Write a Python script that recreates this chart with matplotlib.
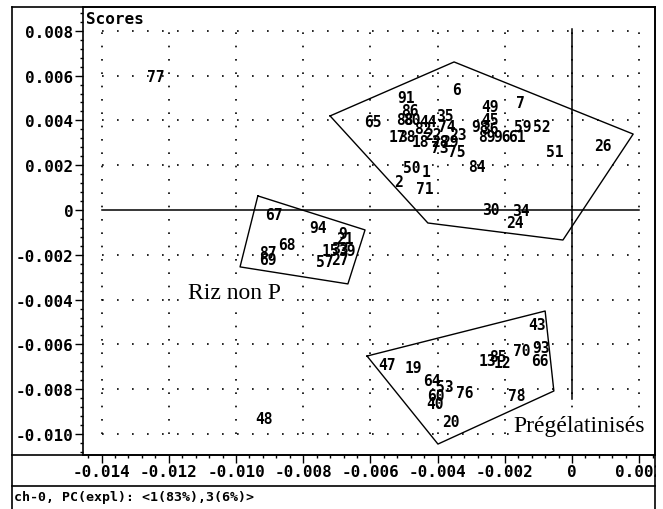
import matplotlib
matplotlib.use('Agg')
from matplotlib import pyplot as plt
from matplotlib.lines import Line2D
from matplotlib.patches import Rectangle
from matplotlib.ticker import FuncFormatter, AutoMinorLocator
import numpy as np

# scores: PC1 (x) vs PC3 (y)
labels = ['6', '91', '86', '88', '80', '35', '44', '74', '17', '38', '82', '22',
          '23', '29', '28', '18', '73', '75', '65', '49', '45', '98', '36', '89',
          '96', '61', '59', '52', '7', '51', '26', '84', '50', '1', '2', '71',
          '30', '34', '24',
          '67', '94', '68', '87', '69', '9', '21', '15', '33', '39', '57', '27',
          '43', '93', '70', '66', '85', '13', '12', '47', '19', '64', '53', '76',
          '60', '40', '20', '78',
          '77', '48']
pc1 = [-0.00345, -0.00494, -0.00482, -0.00497, -0.00476, -0.00378, -0.00429, -0.00372,
       -0.00521, -0.00491, -0.00443, -0.00414, -0.00339, -0.00363, -0.00393, -0.00452,
       -0.00393, -0.00342, -0.00592, -0.00244, -0.00244, -0.00274, -0.00244, -0.00253,
       -0.00208, -0.00164, -0.00146, -0.00089, -0.00155, -0.00051, 0.00092, -0.00283,
       -0.00476, -0.00435, -0.00515, -0.00438, -0.00241, -0.00152, -0.00170,
       -0.00887, -0.00756, -0.00848, -0.00905, -0.00905, -0.00682, -0.00676, -0.00720,
       -0.00690, -0.00670, -0.00735, -0.00690,
       -0.00104, -0.00092, -0.00149, -0.00095, -0.00220, -0.00253, -0.00208, -0.00551,
       -0.00473, -0.00417, -0.00378, -0.00318, -0.00405, -0.00408, -0.00360, -0.00164,
       -0.01238, -0.00917]
pc3 = [0.00536, 0.00504, 0.00442, 0.00406, 0.00406, 0.00420, 0.00393, 0.00371,
       0.00330, 0.00326, 0.00362, 0.00339, 0.00339, 0.00308, 0.00308, 0.00304,
       0.00281, 0.00263, 0.00393, 0.00464, 0.00406, 0.00371, 0.00362, 0.00326,
       0.00330, 0.00326, 0.00371, 0.00371, 0.00478, 0.00263, 0.00286, 0.00196,
       0.00188, 0.00170, 0.00129, 0.00098, 0.00004, 0.00000, -0.00054,
       -0.00018, -0.00076, -0.00152, -0.00188, -0.00219, -0.00107, -0.00129, -0.00179,
       -0.00174, -0.00179, -0.00232, -0.00223,
       -0.00513, -0.00612, -0.00629, -0.00670, -0.00656, -0.00670, -0.00679, -0.00688,
       -0.00705, -0.00763, -0.00790, -0.00813, -0.00830, -0.00866, -0.00946, -0.00830,
       0.00598, -0.00929]

# group outlines
hull_x = [-0.00720, -0.00351, 0.00182, -0.00027, -0.00429]
hull_y = [0.00420, 0.00661, 0.00339, -0.00134, -0.00058]
riz_x = [-0.00935, -0.00616, -0.00667, -0.00988]
riz_y = [0.00063, -0.00089, -0.00330, -0.00254]
preg_x = [-0.00610, -0.00080, -0.00054, -0.00399]
preg_y = [-0.00652, -0.00451, -0.00808, -0.01045]

xticks = [-0.014, -0.012, -0.010, -0.008, -0.006, -0.004, -0.002, 0.0, 0.002]
yticks = [-0.010, -0.008, -0.006, -0.004, -0.002, 0.0, 0.002, 0.004, 0.006, 0.008]

W, H = 663, 510
mono = 'DejaVu Sans Mono'
serif = 'Liberation Serif'

fig = plt.figure(figsize=(W / 100, H / 100), dpi=100)
ax = fig.add_axes([83 / W, 1 - 456 / H, 572 / W, 448 / H])
ax.set_xlim(-0.014554, 0.00247)
ax.set_ylim(-0.010938, 0.009063)

# dotted grid only inside the tick range
for xv in xticks:
    ax.plot([xv, xv], [yticks[0], yticks[-1]], color='black', lw=1.2,
            ls=(0, (1, 7)), zorder=1)
for yv in yticks:
    if yv != 0:
        ax.plot([xticks[0], xticks[-1]], [yv, yv], color='black', lw=1.2,
                ls=(0, (1, 8)), zorder=1)

# solid zero lines
ax.plot([xticks[0], xticks[-1]], [0, 0], color='black', lw=1.1, zorder=2)
ax.plot([0, 0], [0.00808, -0.00844], color='black', lw=1.1, zorder=2)

for px, py in [(hull_x, hull_y), (riz_x, riz_y), (preg_x, preg_y)]:
    ax.plot(px + px[:1], py + py[:1], color='black', lw=1.0, zorder=3)

for lab, xv, yv in zip(labels, pc1, pc3):
    ax.text(xv, yv, lab, ha='center', va='center', fontsize=10.5,
            family=mono, fontweight='bold', zorder=4)

box = dict(facecolor='white', edgecolor='none', pad=1)
ax.text(-0.01143, -0.00393, 'Riz non P', family=serif, fontsize=17,
        ha='left', va='baseline', bbox=box, zorder=2.5)
ax.text(-0.00176, -0.00987, 'Prégélatinisés', family=serif, fontsize=17,
        ha='left', va='baseline', bbox=box, zorder=2.5)

fmt = FuncFormatter(lambda v, p: '0' if abs(v) < 1e-9 else '%.3f' % v)
ax.set_xticks(xticks)
ax.set_yticks(yticks)
ax.xaxis.set_major_formatter(fmt)
ax.yaxis.set_major_formatter(fmt)
ax.xaxis.set_minor_locator(AutoMinorLocator(5))
ax.yaxis.set_minor_locator(AutoMinorLocator(5))
ax.tick_params(which='major', direction='out', length=6, width=1, pad=1)
ax.tick_params(which='minor', direction='out', length=2.5, width=1)
ax.tick_params(axis='y', labelsize=11.5, pad=1)
ax.tick_params(axis='x', labelsize=11.5, pad=0.5)
for t in ax.get_xticklabels() + ax.get_yticklabels():
    t.set_family(mono)
    t.set_fontweight('bold')
for s in ax.spines.values():
    s.set_linewidth(1.2)

# outer frame and status strip
def fline(x0, y0, x1, y1):
    fig.add_artist(Line2D([x0 / W, x1 / W], [1 - y0 / H, 1 - y1 / H],
                          color='black', lw=1.2, zorder=10))

fig.add_artist(Rectangle((656 / W, 0), 7 / W, 1, transform=fig.transFigure,
                         facecolor='white', edgecolor='none', zorder=9))
fline(12, 8, 655, 8)
fline(12, 8, 12, 510)
fline(655, 8, 655, 510)
fline(12, 456, 655, 456)
fline(12, 487, 655, 487)

fig.text(86 / W, 1 - 20 / H, 'Scores', family=mono, fontweight='bold',
         fontsize=11.5, ha='left', va='center')
fig.text(14 / W, 1 - 498 / H, 'ch-0, PC(expl): <1(83%),3(6%)>', family=mono,
         fontweight='bold', fontsize=9.5, ha='left', va='center')

fig.savefig('out.png', dpi=100)
